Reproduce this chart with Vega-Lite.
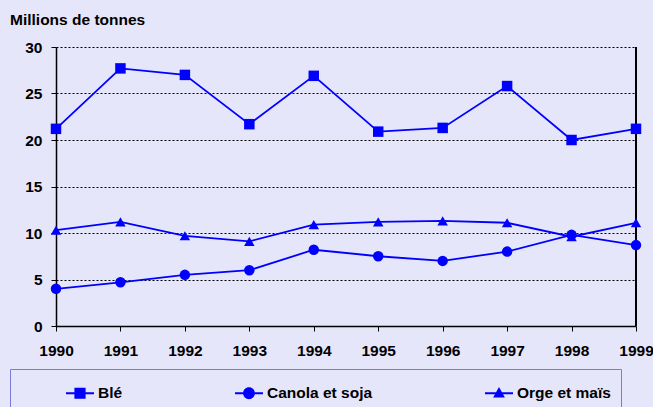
{
  "$schema": "https://vega.github.io/schema/vega-lite/v6.json",
  "width": 580,
  "height": 279,
  "autosize": {"type": "none"},
  "padding": {"left": 56, "top": 47, "right": 17, "bottom": 81},
  "background": "#E6E6FA",
  "title": {
    "text": "Millions de tonnes",
    "anchor": "start",
    "frame": "group",
    "dx": -46,
    "offset": 0,
    "baseline": "alphabetic",
    "font": "Liberation Sans",
    "fontSize": 15.5,
    "fontWeight": "bold",
    "color": "#000000"
  },
  "config": {
    "view": {"stroke": null},
    "font": "Liberation Sans"
  },
  "data": {
    "values": [
      {"year": 1990, "serie": "Blé", "value": 21.2},
      {"year": 1991, "serie": "Blé", "value": 27.7},
      {"year": 1992, "serie": "Blé", "value": 27.0},
      {"year": 1993, "serie": "Blé", "value": 21.7},
      {"year": 1994, "serie": "Blé", "value": 26.9},
      {"year": 1995, "serie": "Blé", "value": 20.9},
      {"year": 1996, "serie": "Blé", "value": 21.3},
      {"year": 1997, "serie": "Blé", "value": 25.8},
      {"year": 1998, "serie": "Blé", "value": 20.0},
      {"year": 1999, "serie": "Blé", "value": 21.2},
      {"year": 1990, "serie": "Canola et soja", "value": 4.0},
      {"year": 1991, "serie": "Canola et soja", "value": 4.7},
      {"year": 1992, "serie": "Canola et soja", "value": 5.5},
      {"year": 1993, "serie": "Canola et soja", "value": 6.0},
      {"year": 1994, "serie": "Canola et soja", "value": 8.2},
      {"year": 1995, "serie": "Canola et soja", "value": 7.5},
      {"year": 1996, "serie": "Canola et soja", "value": 7.0},
      {"year": 1997, "serie": "Canola et soja", "value": 8.0},
      {"year": 1998, "serie": "Canola et soja", "value": 9.8},
      {"year": 1999, "serie": "Canola et soja", "value": 8.7},
      {"year": 1990, "serie": "Orge et maïs", "value": 10.3},
      {"year": 1991, "serie": "Orge et maïs", "value": 11.2},
      {"year": 1992, "serie": "Orge et maïs", "value": 9.7},
      {"year": 1993, "serie": "Orge et maïs", "value": 9.1},
      {"year": 1994, "serie": "Orge et maïs", "value": 10.9},
      {"year": 1995, "serie": "Orge et maïs", "value": 11.2},
      {"year": 1996, "serie": "Orge et maïs", "value": 11.3},
      {"year": 1997, "serie": "Orge et maïs", "value": 11.1},
      {"year": 1998, "serie": "Orge et maïs", "value": 9.6},
      {"year": 1999, "serie": "Orge et maïs", "value": 11.1}
    ]
  },
  "layer": [
    {
      "mark": {"type": "rule", "color": "#000000", "strokeWidth": 1},
      "encoding": {
        "x": {"datum": 1999, "type": "quantitative"},
        "y": {"datum": 0, "type": "quantitative"},
        "y2": {"datum": 30}
      }
    },
    {
      "mark": {"type": "line", "color": "#0000FF", "strokeWidth": 1.8},
      "encoding": {
        "x": {
          "field": "year",
          "type": "quantitative",
          "scale": {"domain": [1990, 1999], "nice": false, "zero": false},
          "axis": {
            "title": null,
            "values": [1990, 1991, 1992, 1993, 1994, 1995, 1996, 1997, 1998, 1999],
            "format": "d",
            "grid": false,
            "domainColor": "#000000",
            "domainWidth": 1.5,
            "tickColor": "#000000",
            "tickSize": 5,
            "labelFont": "Liberation Sans",
            "labelFontSize": 15.5,
            "labelFontWeight": "bold",
            "labelColor": "#000000",
            "labelPadding": 12,
            "labelOverlap": false,
            "labelFlush": false
          }
        },
        "y": {
          "field": "value",
          "type": "quantitative",
          "scale": {"domain": [0, 30], "nice": false},
          "axis": {
            "title": null,
            "values": [0, 5, 10, 15, 20, 25, 30],
            "grid": true,
            "gridColor": "#000000",
            "gridDash": [2, 2],
            "gridWidth": 1,
            "domainColor": "#000000",
            "domainWidth": 1.5,
            "tickColor": "#000000",
            "tickSize": 5,
            "labelFont": "Liberation Sans",
            "labelFontSize": 15.5,
            "labelFontWeight": "bold",
            "labelColor": "#000000",
            "labelPadding": 9
          }
        },
        "detail": {"field": "serie"}
      }
    },
    {
      "mark": {"type": "point", "filled": true, "color": "#0000FF", "opacity": 1},
      "encoding": {
        "x": {"field": "year", "type": "quantitative"},
        "y": {"field": "value", "type": "quantitative"},
        "shape": {
          "field": "serie",
          "type": "nominal",
          "scale": {
            "domain": ["Blé", "Canola et soja", "Orge et maïs"],
            "range": ["square", "circle", "triangle-up"]
          },
          "legend": null
        },
        "size": {"value": 110}
      }
    },
    {
      "transform": [{"filter": "datum.year > 3000"}],
      "mark": {"type": "point", "filled": true, "color": "#0000FF", "opacity": 1},
      "encoding": {
        "x": {"field": "year", "type": "quantitative"},
        "y": {"field": "value", "type": "quantitative"},
        "shape": {
          "field": "serie",
          "type": "nominal",
          "scale": {
            "domain": ["Blé", "Canola et soja", "Orge et maïs"],
            "range": [
              "M-1,-0.07H1V0.07H-1ZM-0.4,-0.4H0.4V0.4H-0.4Z",
              "M-1,-0.07H1V0.07H-1ZM0.42,0A0.42,0.42,0,1,1,-0.42,0A0.42,0.42,0,1,1,0.42,0Z",
              "M-1,-0.07H1V0.07H-1ZM0,-0.44L0.42,0.3H-0.42Z"
            ]
          },
          "legend": {
            "orient": "none",
            "legendX": -46,
            "legendY": 322,
            "direction": "horizontal",
            "title": "\u00a0",
            "titleOrient": "left",
            "titlePadding": 46,
            "padding": 10,
            "fillColor": "#E6E6FA",
            "strokeColor": "#7B7BDB",
            "columnPadding": 112,
            "symbolSize": 784,
            "symbolFillColor": "#0000FF",
            "symbolStrokeColor": "#0000FF",
            "symbolStrokeWidth": 0,
            "symbolOpacity": 1,
            "labelOffset": 4,
            "labelFont": "Liberation Sans",
            "labelFontSize": 15.5,
            "labelFontWeight": "bold",
            "labelColor": "#000000"
          }
        }
      }
    }
  ],
  "resolve": {"scale": {"shape": "independent"}}
}
